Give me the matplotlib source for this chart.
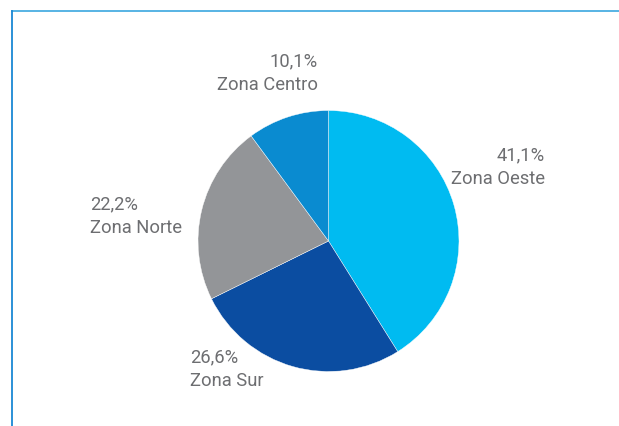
import matplotlib
matplotlib.use("Agg")
import matplotlib.pyplot as plt
from matplotlib.lines import Line2D

categories = ["Zona Oeste", "Zona Sur", "Zona Norte", "Zona Centro"]
values = [41.1, 26.6, 22.2, 10.1]
value_labels = ["41,1%", "26,6%", "22,2%", "10,1%"]
colors = ["#00BBF1", "#0B4DA1", "#939598", "#0A8BD0"]

W, H = 619, 426
fig = plt.figure(figsize=(W / 100, H / 100), dpi=100)
fig.patch.set_facecolor("white")

# frame lines (top and left)
fig.add_artist(Line2D([12 / W, 1], [1 - 11 / H, 1 - 11 / H], transform=fig.transFigure,
                      color="#4AAEE2", lw=1.3))
fig.add_artist(Line2D([12 / W, 12 / W], [0, 1 - 11 / H], transform=fig.transFigure,
                      color="#1A88D4", lw=1.3))

cx, cy, r = 328.5, 241, 130.5
ax = fig.add_axes([(cx - r) / W, (H - cy - r) / H, 2 * r / W, 2 * r / H])
ax.pie(values, colors=colors, startangle=90, counterclock=False, radius=1,
       wedgeprops=dict(edgecolor="white", linewidth=0.3))
ax.set_xlim(-1, 1)
ax.set_ylim(-1, 1)
ax.set_aspect("equal")
ax.axis("off")

# label layout: (x px, y px of block center, alignment)
label_layout = {
    "Zona Oeste": (545, 167.5, "right"),
    "Zona Sur": (190, 369.5, "left"),
    "Zona Norte": (90, 216, "left"),
    "Zona Centro": (318, 73.3, "right"),
}
for cat, vl in zip(categories, value_labels):
    x, y, ha = label_layout[cat]
    fig.text(x / W, 1 - y / H, f"{vl}\n{cat}", ha=ha, va="center", multialignment=ha,
             fontsize=13.2, family="Roboto", color="#6D6E71", linespacing=1.42)

fig.savefig("out.png", dpi=100, facecolor="white")
